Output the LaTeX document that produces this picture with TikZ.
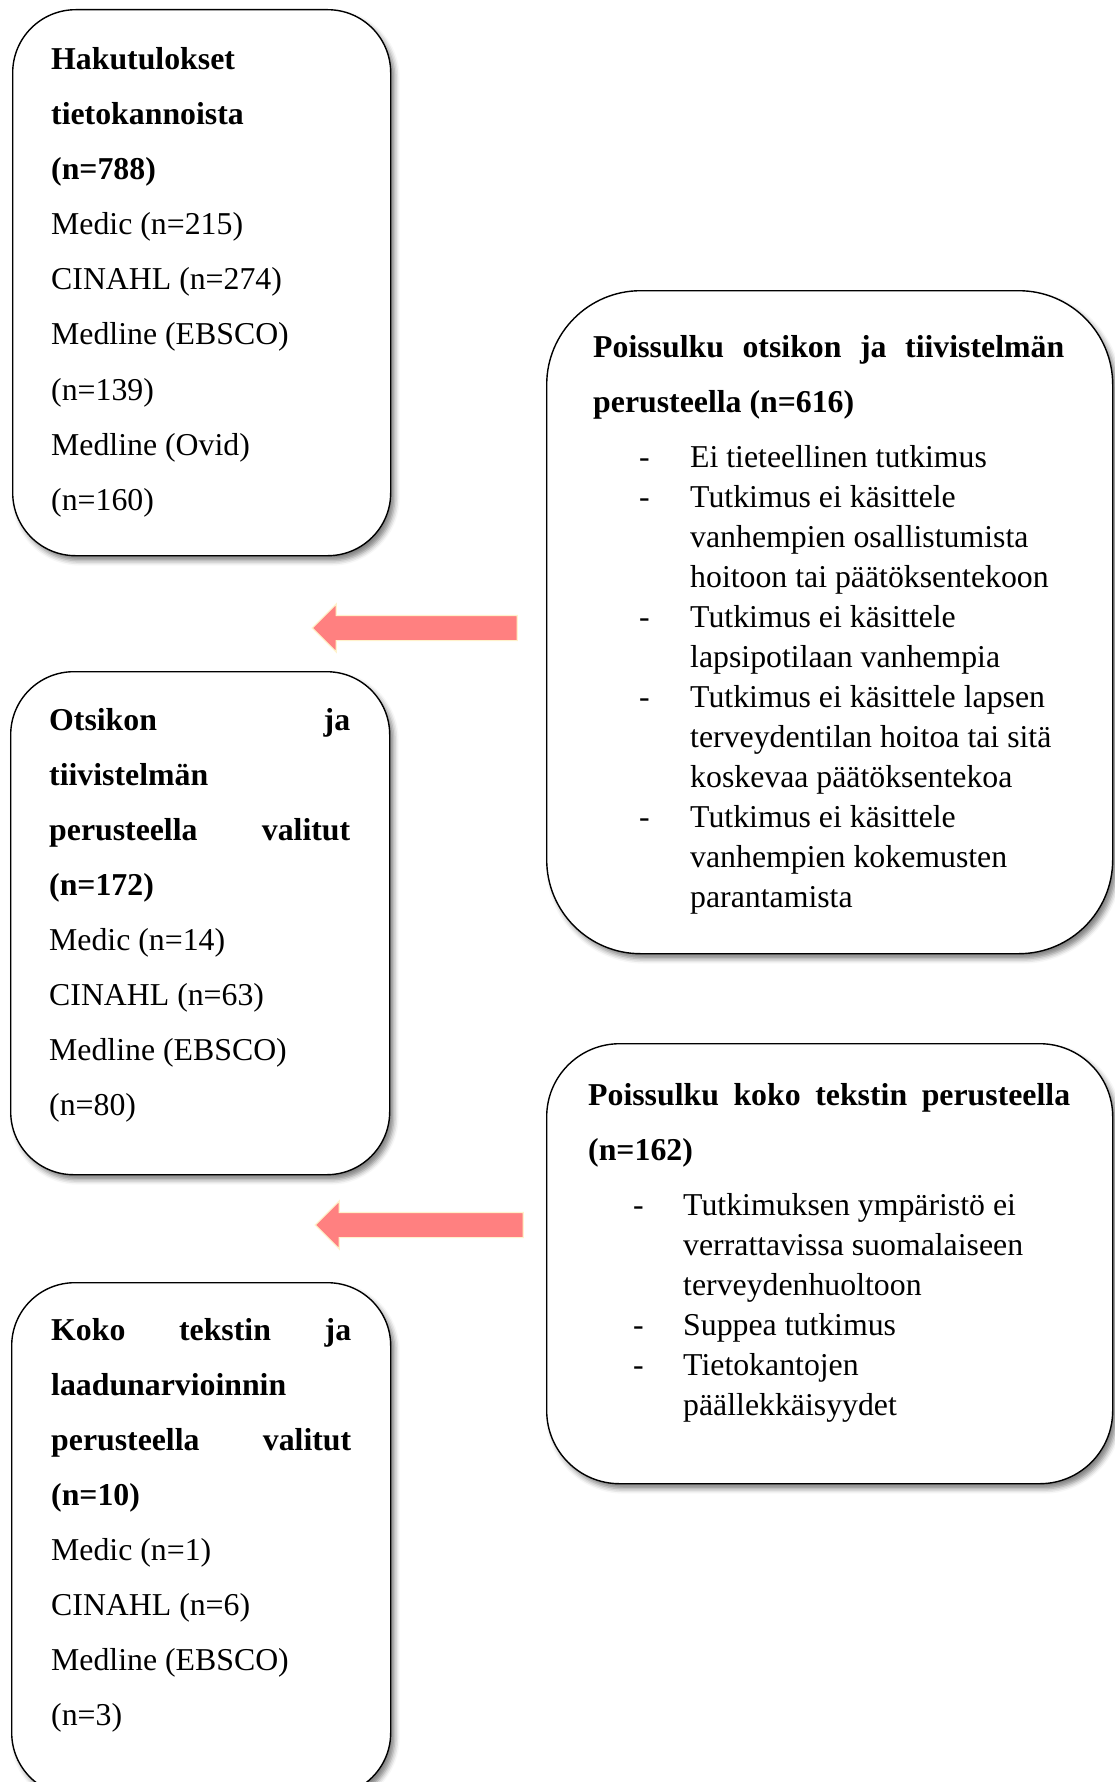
\documentclass[tikz,border=0pt]{standalone}
\usepackage{fontspec}
\setmainfont{Liberation Serif}
\usetikzlibrary{shapes.arrows,shadows.blur}
\definecolor{arrowpink}{RGB}{255,128,128}
\definecolor{arrowedge}{RGB}{255,242,204}
\newcommand\dashitem[3]{\makebox[#2][l]{\hspace*{#1}-}#3}
\newcommand\contitem[2]{\hspace*{#1}#2}
\newcommand\boxfont{\fontsize{31.8}{55.1}\selectfont}
\newcommand\listfont{\fontsize{31.8}{40}\selectfont}
\begin{document}
\begin{tikzpicture}[x=1pt,y=-1pt,
  roundbox/.style={draw=black, line width=1.4pt, fill=white, rounded corners=#1,
    inner sep=0pt, anchor=north west,
    blur shadow={shadow xshift=4pt, shadow yshift=-5pt, shadow blur radius=5pt, shadow opacity=50}},
  boxtext/.style={anchor=base west, inner sep=0pt, font=\boxfont},
  blockarrow/.style={single arrow, draw=arrowedge, line width=1.2pt, fill=arrowpink,
    inner xsep=0pt, inner ysep=12pt, text height=0pt, text depth=0pt,
    single arrow head extend=11.5pt, shape border rotate=180}]
\useasboundingbox (0,0) rectangle (1114,1782);

% boxes
\node[roundbox=63pt, minimum width=378pt, minimum height=546pt] (b1) at (12,9) {};
\node[roundbox=94pt, minimum width=566pt, minimum height=663pt] (b2) at (546,290) {};
\node[roundbox=63pt, minimum width=379pt, minimum height=503pt] (b3) at (10,671) {};
\node[roundbox=73pt, minimum width=566pt, minimum height=440pt] (b4) at (546,1043) {};
\node[roundbox=63pt, minimum width=379pt, minimum height=513pt] (b5) at (11,1282) {};

% arrows
\node[blockarrow, minimum height=205pt] (a1) at (421,628) {};
\node[blockarrow, minimum height=208pt] (a2) at (425.5,1225) {};

% texts
\node[boxtext] (t1) at (51,69.5) {\parbox[t]{330pt}{\boxfont
\textbf{Hakutulokset}\\
\textbf{tietokannoista}\\
\textbf{(n=788)}\\
Medic (n=215)\\
CINAHL (n=274)\\
Medline (EBSCO)\\
(n=139)\\
Medline (Ovid)\\
(n=160)}};

\node[boxtext] (t3) at (49,730) {\parbox[t]{330pt}{\boxfont
\leavevmode\hbox to 301pt{\bfseries Otsikon\hfill ja}\\
\textbf{tiivistelmän}\\
\leavevmode\hbox to 301pt{\bfseries perusteella\hfill valitut}\\
\textbf{(n=172)}\\
Medic (n=14)\\
CINAHL (n=63)\\
Medline (EBSCO)\\
(n=80)}};

\node[boxtext] (t5) at (51,1340) {\parbox[t]{330pt}{\boxfont
\leavevmode\hbox to 300pt{\bfseries Koko\hfill tekstin\hfill ja}\\
\textbf{laadunarvioinnin}\\
\leavevmode\hbox to 300pt{\bfseries perusteella\hfill valitut}\\
\textbf{(n=10)}\\
Medic (n=1)\\
CINAHL (n=6)\\
Medline (EBSCO)\\
(n=3)}};

\node[boxtext] (t2) at (593,357.5) {\parbox[t]{510pt}{\listfont
\leavevmode\hbox to 471pt{\bfseries Poissulku\hfill otsikon\hfill ja\hfill tiivistelmän}\\[15.1pt]
\textbf{perusteella (n=616)}\\[14.9pt]
\dashitem{46pt}{97pt}{Ei tieteellinen tutkimus}\\
\dashitem{46pt}{97pt}{Tutkimus ei käsittele}\\
\contitem{97pt}{vanhempien osallistumista}\\
\contitem{97pt}{hoitoon tai päätöksentekoon}\\
\dashitem{46pt}{97pt}{Tutkimus ei käsittele}\\
\contitem{97pt}{lapsipotilaan vanhempia}\\
\dashitem{46pt}{97pt}{Tutkimus ei käsittele lapsen}\\
\contitem{97pt}{terveydentilan hoitoa tai sitä}\\
\contitem{97pt}{koskevaa päätöksentekoa}\\
\dashitem{46pt}{97pt}{Tutkimus ei käsittele}\\
\contitem{97pt}{vanhempien kokemusten}\\
\contitem{97pt}{parantamista}}};

\node[boxtext] (t4) at (588,1105.4) {\parbox[t]{510pt}{\listfont
\leavevmode\hbox to 482pt{\bfseries Poissulku\hfill koko\hfill tekstin\hfill perusteella}\\[15.1pt]
\textbf{(n=162)}\\[14.9pt]
\dashitem{45pt}{95pt}{Tutkimuksen ympäristö ei}\\
\contitem{95pt}{verrattavissa suomalaiseen}\\
\contitem{95pt}{terveydenhuoltoon}\\
\dashitem{45pt}{95pt}{Suppea tutkimus}\\
\dashitem{45pt}{95pt}{Tietokantojen}\\
\contitem{95pt}{päällekkäisyydet}}};
\end{tikzpicture}
\end{document}
